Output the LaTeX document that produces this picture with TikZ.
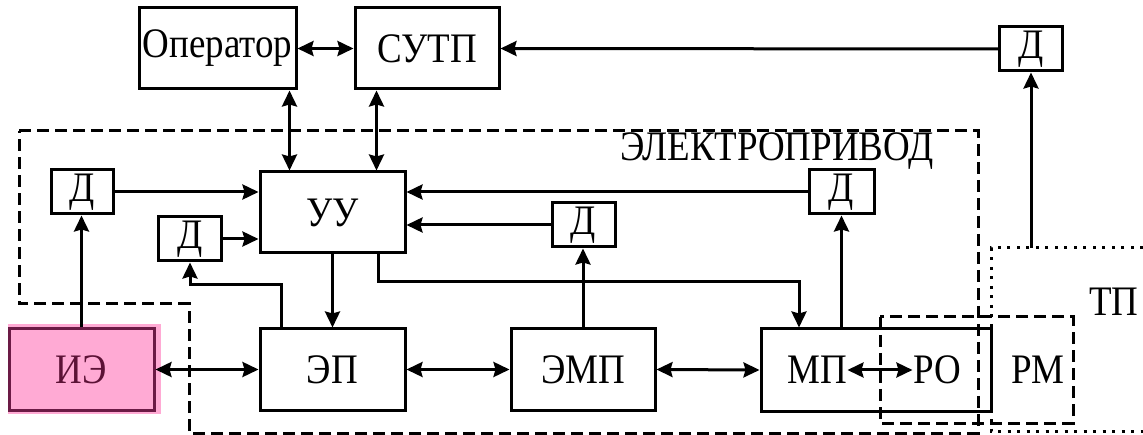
\documentclass[tikz,border=0pt]{standalone}
\usepackage{fontspec}
\setmainfont{Liberation Serif}[FakeStretch=0.88]
\usetikzlibrary{arrows.meta,calc}
\definecolor{iefill}{HTML}{FFAAD4}
\definecolor{ieline}{HTML}{6B1A45}
\definecolor{ietext}{HTML}{5C1236}
\begin{document}
\begin{tikzpicture}[x=1pt,y=-1pt,
  every node/.style={font=\fontsize{42}{42}\selectfont},
  blk/.style={draw,line width=3pt,minimum width=#1,inner sep=0pt},
  blk/.default=145pt,
  sensor/.style={draw,line width=3pt,minimum width=63pt,minimum height=44pt,inner sep=0pt},
  link/.style={line width=3pt,-{Stealth[length=16pt,width=15pt,inset=2pt]}},
  both/.style={line width=3pt,{Stealth[length=16pt,width=15pt,inset=2pt]}-{Stealth[length=16pt,width=15pt,inset=2pt]}},
  bound/.style={line width=3pt,dash pattern=on 12pt off 6pt},
  dots/.style={line width=3pt,dash pattern=on 3pt off 6.5pt}]
\useasboundingbox (0,0) rectangle (1143,435);

% drive boundary
\draw[bound] (19,131) -- (978,131) -- (978,433) -- (189,433) -- (189,304) -- (19,304) -- cycle;
\node (drv) at (777,151) {ЭЛЕКТРОПРИВОД};

% technological process (open on the right)
\draw[dots] (1143,248) -- (991,248) -- (991,431) -- (1143,431);
\node (tp) at (1114,302) {ТП};
\coordinate (tptop) at (1031,248);

% upper level
\node[blk=157pt,minimum height=81pt] (op) at (217.5,48.5) {Оператор};
\node[blk=144pt,minimum height=81pt] (sutp) at (427,48.5) {СУТП};
\node[sensor] (dtop) at (1031,49) {Д};

% control unit and sensors
\node[blk,minimum height=81pt] (uu) at (332.5,212.5) {УУ};
\node[sensor,minimum width=62pt] (d1) at (82,192) {Д};
\node[sensor] (d2) at (190,239) {Д};
\node[sensor] (dm) at (583.5,225) {Д};
\node[sensor,minimum width=65pt] (dr) at (841.5,192) {Д};

% power chain
\fill[iefill] (8,324) rectangle (161,414);
\node[blk,minimum height=81pt,fill=iefill,draw=ieline,text=ietext] (ie) at (81.5,369.5) {ИЭ};
\node[blk,minimum height=81pt] (ep) at (332.5,369.5) {ЭП};
\node[blk=144pt,minimum height=81pt] (emp) at (583,369.5) {ЭМП};
\node[blk=230pt,minimum height=82pt] (mp) at (876,370) {};
\node[inner sep=0.5pt] (mpt) at (817,370) {МП};
\node[inner sep=0.5pt] (ro) at (937,370) {РО};
\node (rm) at (1038,370) {РМ};

% working body / mechanism frame
\draw[bound] (880,317) rectangle (1073,423);

% connections
\draw[both] (op.east) -- (sutp.west);
\draw[link] (dtop.west) -- (sutp.east);
\draw[link] (tptop) -- (dtop.south);
\draw[both] ([xshift=-8pt]op.south east) -- ([xshift=-8pt]op.south east |- uu.north);
\draw[both] ([xshift=23pt]sutp.south west) -- ([xshift=23pt]sutp.south west |- uu.north);

\draw[link] (d1.east) -- (d1.east -| uu.west);
\draw[link] (d2.east) -- (d2.east -| uu.west);
\draw[link] (dm.west) -- (dm.west -| uu.east);
\draw[link] (dr.west) -- (dr.west -| uu.east);

\draw[link] (ie.north) -- (ie.north |- d1.south);
\draw[link] ([xshift=23pt]ep.north west) -- ++(0,-43) -| (d2.south);
\draw[link] (uu.south) -- (ep.north);
\draw[link] ([xshift=45.5pt]uu.south) -- ++(0,27) -| ([xshift=-77pt]mp.north);
\draw[link] (emp.north) -- (emp.north |- dm.south);
\draw[link] (mp.north -| dr.south) -- (dr.south);

\draw[both] (ie.east) -- (ep.west);
\draw[both] (ep.east) -- (emp.west);
\draw[both] (emp.east) -- (mp.west);
\draw[both] (mpt.east) -- (ro.west);
\end{tikzpicture}
\end{document}
